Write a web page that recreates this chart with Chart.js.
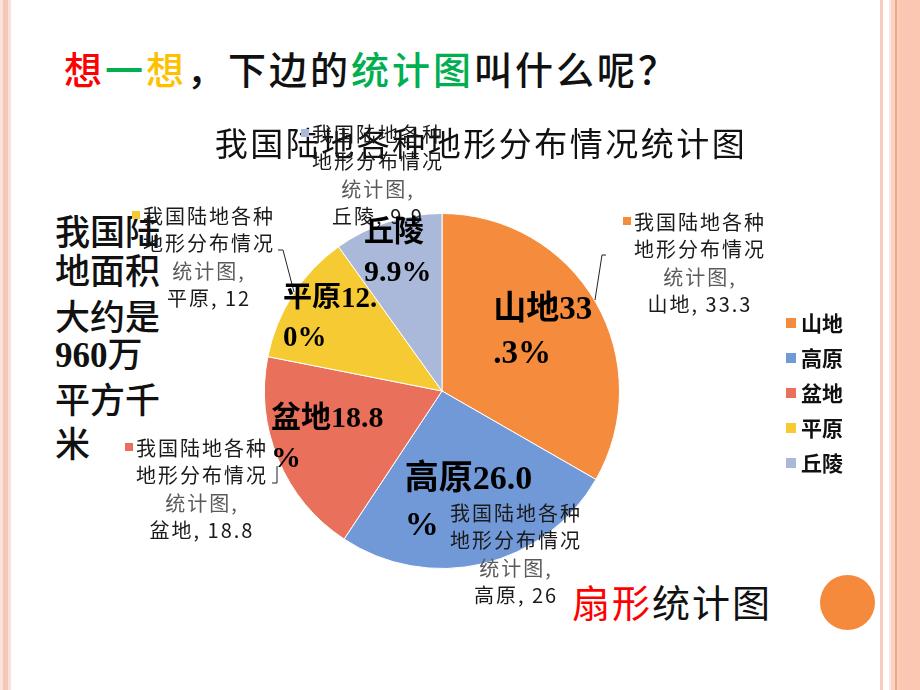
<!DOCTYPE html>
<html>
<head>
<meta charset="utf-8">
<script src="https://cdn.jsdelivr.net/npm/chart.js"></script>
<style>
  body { margin: 0; background: #fff; }
  #slide {
    position: relative; width: 920px; height: 690px; overflow: hidden;
    background: #fff; font-family: "Noto Sans CJK SC", sans-serif; color: #111;
  }
  .edge-left {
    position: absolute; left: 0; top: 0; width: 11px; height: 690px;
    background: linear-gradient(to right, #fbe2d9 0 3px, #f6c6b6 3px 8px, #fbe2d9 8px 11px);
  }
  .edge-right {
    position: absolute; left: 880px; top: 0; width: 40px; height: 690px;
    background: linear-gradient(to right, #f8cbbb 0 3px, #fff 3px 9px, #fde6dd 9px 11px,
      #f9d2c4 11px 15px, #f4a67f 15px 17px, #f9cdbd 17px 19px, #fbc7b3 19px 40px);
  }
  .txt { position: absolute; white-space: nowrap; line-height: 1; }
  .num { font-family: "Liberation Serif", serif; font-weight: 700; }
  #pieChart { position: absolute; left: 0; top: 0; }
</style>
</head>
<body>
<div id="slide">
  <div class="edge-left"></div>
  <div class="edge-right"></div>

  <div class="txt" style="left:64px;top:49px;font-size:38px;letter-spacing:3px;font-weight:500;">
    <span style="color:#ff0000">想</span><span style="color:#00b050">一</span><span style="color:#ffc000">想</span>，下边的<span style="color:#00b050">统计图</span>叫什么呢？
  </div>

  <div class="txt" style="left:55px;top:212px;font-size:35px;font-weight:500;">我国陆</div>
  <div class="txt" style="left:55px;top:251px;font-size:35px;font-weight:500;">地面积</div>
  <div class="txt" style="left:55px;top:297px;font-size:35px;font-weight:500;">大约是</div>
  <div class="txt" style="left:55px;top:334px;font-size:35px;font-weight:500;"><span class="num">960</span>万</div>
  <div class="txt" style="left:55px;top:380px;font-size:35px;font-weight:500;">平方千</div>
  <div class="txt" style="left:55px;top:424px;font-size:35px;font-weight:500;">米</div>

  <div class="txt" style="left:572px;top:582px;font-size:38px;letter-spacing:2px;">
    <span style="color:#ff0000">扇形</span>统计图
  </div>
  <div style="position:absolute;left:820px;top:575px;width:55px;height:55px;border-radius:50%;background:#f68a3c;"></div>

  <canvas id="pieChart" width="920" height="690"></canvas>
</div>

<script>
  // data
  const seriesName = "我国陆地各种地形分布情况统计图";
  const categories = ["山地", "高原", "盆地", "平原", "丘陵"];
  const shares = [33.3, 26, 18.8, 12, 9.9];
  const sliceColors = ["#f58b3d", "#7199d8", "#e9705a", "#f6ca33", "#aab9d9"];

  // label styling (placement only)
  const insideRadius = [0.655, 0.65, 0.70, 0.75, 0.815];
  const insideSize = [33, 34, 30, 29, 30];
  const insideWrap = [103, 140, 125, 100, 68];
  const calloutAt = [[700, 222], [516, 513], [202, 448], [209, 216], [378, 134]];
  const calloutKey = [true, false, true, true, true];
  const leaders = [
    [[606, 255], [602, 255], [595, 300]],
    null,
    [[272, 483], [277, 483], [277, 466]],
    [[278, 250], [283, 250], [294, 292]],
    null,
  ];

  function wrapChars(ctx, text, maxWidth) {
    const lines = [];
    let cur = "";
    for (const ch of text) {
      if (cur && ctx.measureText(cur + ch).width > maxWidth) {
        lines.push(cur);
        cur = ch;
      } else {
        cur += ch;
      }
    }
    if (cur) lines.push(cur);
    return lines;
  }

  const slideLabels = {
    id: "slideLabels",
    afterDatasetsDraw(chart) {
      const ctx = chart.ctx;
      const arcs = chart.getDatasetMeta(0).data;
      ctx.save();

      // chart title
      ctx.fillStyle = "#111";
      ctx.textAlign = "center";
      ctx.textBaseline = "middle";
      ctx.font = "33px 'Noto Sans CJK SC'";
      ctx.letterSpacing = "2.5px";
      ctx.fillText(seriesName, 481, 143);

      // leader lines
      ctx.strokeStyle = "#222";
      ctx.lineWidth = 1;
      leaders.forEach((pts) => {
        if (!pts) return;
        ctx.beginPath();
        pts.forEach(([x, y], k) => (k ? ctx.lineTo(x, y) : ctx.moveTo(x, y)));
        ctx.stroke();
      });

      // callout labels
      ctx.font = "20px 'Noto Sans CJK SC'";
      ctx.letterSpacing = "2px";
      categories.forEach((cat, i) => {
        const lines = [
          seriesName.slice(0, 6),
          seriesName.slice(6, 12),
          seriesName.slice(12) + ",",
          cat + ", " + String(shares[i]),
        ];
        const [cx, cy] = calloutAt[i];
        lines.forEach((line, k) => {
          ctx.fillStyle = k === 2 ? "#5a5a5a" : "#1a1a1a";
          ctx.fillText(line, cx, cy + k * 27.5);
        });
        if (calloutKey[i]) {
          const w = ctx.measureText(lines[0]).width;
          ctx.fillStyle = sliceColors[i];
          ctx.fillRect(cx - w / 2 - 11, cy - 5, 8, 8);
        }
      });

      // data labels inside slices
      ctx.letterSpacing = "0px";
      ctx.textAlign = "left";
      ctx.fillStyle = "#000";
      arcs.forEach((arc, i) => {
        const mid = (arc.startAngle + arc.endAngle) / 2;
        const r = arc.outerRadius * insideRadius[i];
        const x = arc.x + Math.cos(mid) * r;
        const y = arc.y + Math.sin(mid) * r;
        ctx.font = "bold " + insideSize[i] + "px 'Liberation Serif', 'Noto Sans CJK SC'";
        const text = categories[i] + shares[i].toFixed(1) + "%";
        const lines = wrapChars(ctx, text, insideWrap[i]);
        const w = Math.max(...lines.map((l) => ctx.measureText(l).width));
        const lh = insideSize[i] * 1.33;
        lines.forEach((l, k) => {
          ctx.fillText(l, x - w / 2, y + (k - (lines.length - 1) / 2) * lh);
        });
      });

      // legend
      ctx.font = "bold 21px 'Noto Sans CJK SC'";
      ctx.textBaseline = "middle";
      categories.forEach((cat, i) => {
        const ly = 323 + i * 35;
        ctx.fillStyle = sliceColors[i];
        ctx.fillRect(786, ly - 5, 10, 10);
        ctx.fillStyle = "#111";
        ctx.fillText(cat, 801, ly);
      });

      ctx.restore();
    },
  };

  new Chart(document.getElementById("pieChart"), {
    type: "pie",
    data: {
      labels: categories,
      datasets: [{
        label: seriesName,
        data: shares,
        backgroundColor: sliceColors,
        borderColor: "#ffffff",
        borderWidth: 1,
      }],
    },
    options: {
      responsive: false,
      animation: false,
      layout: { padding: { left: 264, right: 300, top: 213, bottom: 121 } },
      plugins: {
        legend: { display: false },
        title: { display: false },
        tooltip: { enabled: false },
      },
    },
    plugins: [slideLabels],
  });
</script>
</body>
</html>
